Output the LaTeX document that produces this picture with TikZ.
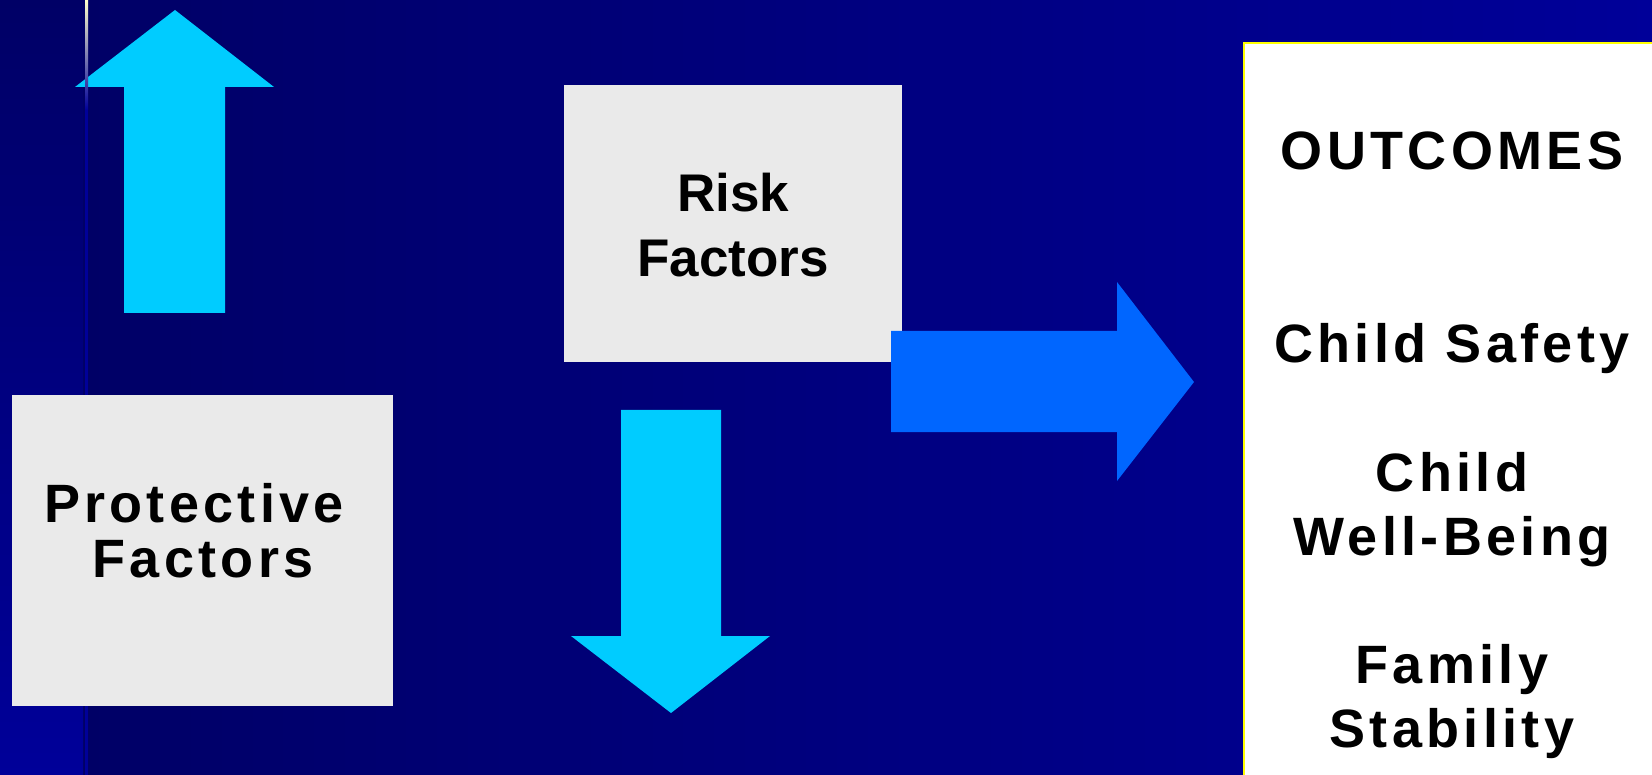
\documentclass[tikz,border=0pt]{standalone}
\usepackage{fontspec}
\newfontfamily\slidefont{Liberation Sans}
\newfontfamily\slidewide[LetterSpace=8]{Liberation Sans}
\definecolor{bgdark}{HTML}{000066}
\definecolor{bglight}{HTML}{000099}
\definecolor{boxgrey}{HTML}{EAEAEA}
\definecolor{arrowcyan}{HTML}{00CCFF}
\definecolor{arrowblue}{HTML}{0066FF}
\definecolor{edgeyellow}{HTML}{FFFF00}
\definecolor{lineglow}{HTML}{FFFFCC}
\tikzset{
  factorbox/.style={fill=boxgrey, inner sep=0pt},
  bigtext/.style={font=\slidefont\bfseries\fontsize{53}{65}\selectfont, align=center, inner sep=0pt},
  widetext/.style={font=\slidewide\bfseries\fontsize{54}{64}\selectfont, align=center, inner sep=0pt},
}
\begin{document}
\begin{tikzpicture}[x=1pt,y=-1pt,line join=miter]
	\def\xmax{1652}\def\ymax{775}
	\useasboundingbox (0,0) rectangle (\xmax,\ymax);
	\clip (0,0) rectangle (\xmax,\ymax);
	% background
	\shade[left color=bgdark, right color=bglight] (83,0) rectangle (\xmax,\ymax);
	\shade[top color=bgdark, bottom color=bglight] (0,0) rectangle (83,\ymax);
	% up arrow
	\fill[arrowcyan] (124,313) -- (124,87) -- (75,87) -- (175,10) -- (274,87) -- (225,87) -- (225,313) -- cycle;
	% thin strip line
	\shade[top color=lineglow, middle color=arrowblue, bottom color=bglight] (85,0) rectangle (88,110);
	\fill[bglight] (85,110) rectangle (88,\ymax);
	% factor boxes (base anchor sits on the last line)
	\node[factorbox, minimum width=381pt, minimum height=311pt] (protect) at (202.5,550.5) {};
	\node[widetext, font=\slidewide\bfseries\fontsize{54}{55}\selectfont, anchor=base] (protectText) at (203,577) {Protective\hspace*{18pt}\\Factors};
	\node[factorbox, minimum width=338pt, minimum height=277pt] (risk) at (733,223.5) {};
	\node[bigtext, anchor=base] (riskText) at (733,277) {Risk\\Factors};
	% down arrow
	\fill[arrowcyan] (621,410) -- (721,410) -- (721,636) -- (770,636) -- (671,713) -- (571,636) -- (621,636) -- cycle;
	% outcomes panel
	\node[draw=edgeyellow, line width=2pt, fill=white, anchor=north west, minimum width=480pt, minimum height=780pt] (outcomes) at (1243,42) {};
	\node[widetext, anchor=base] (outTitle) at (1452,170) {OUTCOMES};
	\node[widetext, anchor=base] (safety) at (1452,363) {Child Safety};
	\node[widetext, anchor=base] (wellbeing) at (1452,555) {Child\\Well-Being};
	\node[widetext, anchor=base] (stability) at (1452,747) {Family\\Stability};
	% right arrow
	\fill[arrowblue] (891,331) -- (1117,331) -- (1117,282) -- (1194,382) -- (1117,481) -- (1117,432) -- (891,432) -- cycle;
\end{tikzpicture}
\end{document}
